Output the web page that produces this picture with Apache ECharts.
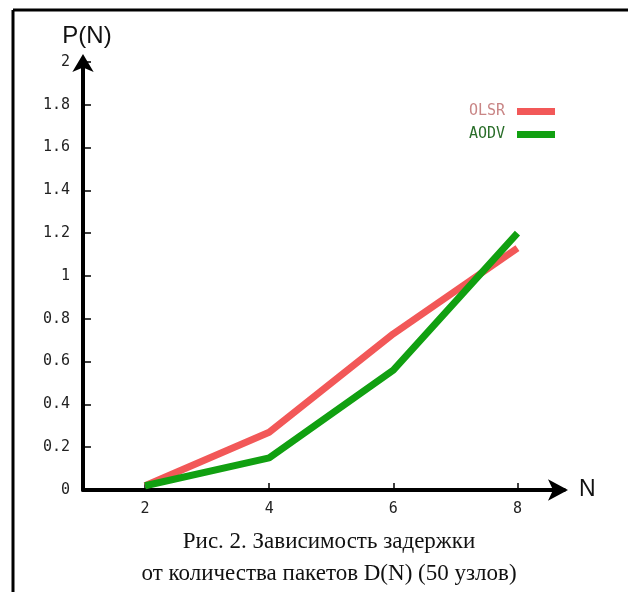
<!DOCTYPE html>
<html>
<head>
<meta charset="utf-8">
<script src="https://cdn.jsdelivr.net/npm/echarts@6/dist/echarts.min.js"></script>
<style>html,body{margin:0;padding:0;background:#fff}#c{width:628px;height:592px}</style>
</head>
<body>
<div id="c"></div>
<script>
var xTicks = [2, 4, 6, 8];
var seriesNames = ['OLSR', 'AODV'];
var olsr = [[2, 0.02], [4, 0.27], [6, 0.73], [8, 1.13]];
var aodv = [[2, 0.02], [4, 0.15], [6, 0.56], [8, 1.20]];
var yTickLabels = ['0', '0.2', '0.4', '0.6', '0.8', '1', '1.2', '1.4', '1.6', '1.8', '2'];
var captionLines = ['Рис. 2. Зависимость задержки', 'от количества пакетов D(N) (50 узлов)'];

var chart = echarts.init(document.getElementById('c'));
var mono = 'DejaVu Sans Mono';
chart.setOption({
  backgroundColor: '#fff',
  animation: false,
  title: {
    text: captionLines.join('\n'),
    left: 324, top: 521, textAlign: 'center',
    textStyle: { fontFamily: 'Liberation Serif', fontSize: 23, fontWeight: 'normal', color: '#111', lineHeight: 32 }
  },
  legend: {
    orient: 'vertical', right: 68, top: 99, align: 'right',
    itemWidth: 38, itemHeight: 7, itemGap: 8, icon: 'rect',
    data: [
      { name: seriesNames[0], textStyle: { color: '#c98686' } },
      { name: seriesNames[1], textStyle: { color: '#2a6e2a' } }
    ],
    textStyle: { fontFamily: mono, fontSize: 15, padding: [0, 7, 0, 0] }
  },
  grid: { left: 83, right: 64, top: 62, bottom: 102, containLabel: false },
  xAxis: {
    type: 'value', min: 1, max: 8.75,
    name: 'N', nameLocation: 'end', nameGap: 15,
    nameTextStyle: { fontFamily: 'Liberation Sans', fontSize: 23, color: '#111', verticalAlign: 'middle' },
    axisLine: { lineStyle: { color: '#000', width: 4 }, symbol: ['none', 'arrow'], symbolSize: [16, 20], symbolOffset: [0, 4] },
    axisTick: { inside: true, length: 7, lineStyle: { color: '#000', width: 1.5 }, customValues: xTicks },
    axisLabel: { customValues: xTicks, margin: 12, fontFamily: mono, fontSize: 15, color: '#222' },
    splitLine: { show: false }
  },
  yAxis: {
    type: 'value', min: 0, max: 2, interval: 0.2,
    name: 'P(N)', nameLocation: 'end', nameGap: 14,
    nameTextStyle: { fontFamily: 'Liberation Sans', fontSize: 24, color: '#111', align: 'center', padding: [0, 0, 0, 8] },
    axisLine: { lineStyle: { color: '#000', width: 4 }, symbol: ['none', 'arrow'], symbolSize: [16, 18], symbolOffset: [0, 8] },
    axisTick: { inside: true, length: 8, lineStyle: { color: '#000', width: 1.5 } },
    axisLabel: {
      margin: 13, fontFamily: mono, fontSize: 15, color: '#222',
      formatter: function (v) { return yTickLabels[Math.round(v * 5)]; }
    },
    splitLine: { show: false }
  },
  series: [
    { name: seriesNames[0], type: 'line', data: olsr, showSymbol: false, color: '#f25858',
      lineStyle: { width: 7, color: '#f25858' }, z: 2 },
    { name: seriesNames[1], type: 'line', data: aodv, showSymbol: false, color: '#11a011',
      lineStyle: { width: 7, color: '#11a011' }, z: 3 }
  ],
  graphic: [
    { type: 'line', shape: { x1: 13, y1: 10, x2: 628, y2: 10 }, style: { stroke: '#000', lineWidth: 3 } },
    { type: 'line', shape: { x1: 13, y1: 10, x2: 13, y2: 592 }, style: { stroke: '#000', lineWidth: 3 } }
  ]
});
</script>
</body>
</html>
